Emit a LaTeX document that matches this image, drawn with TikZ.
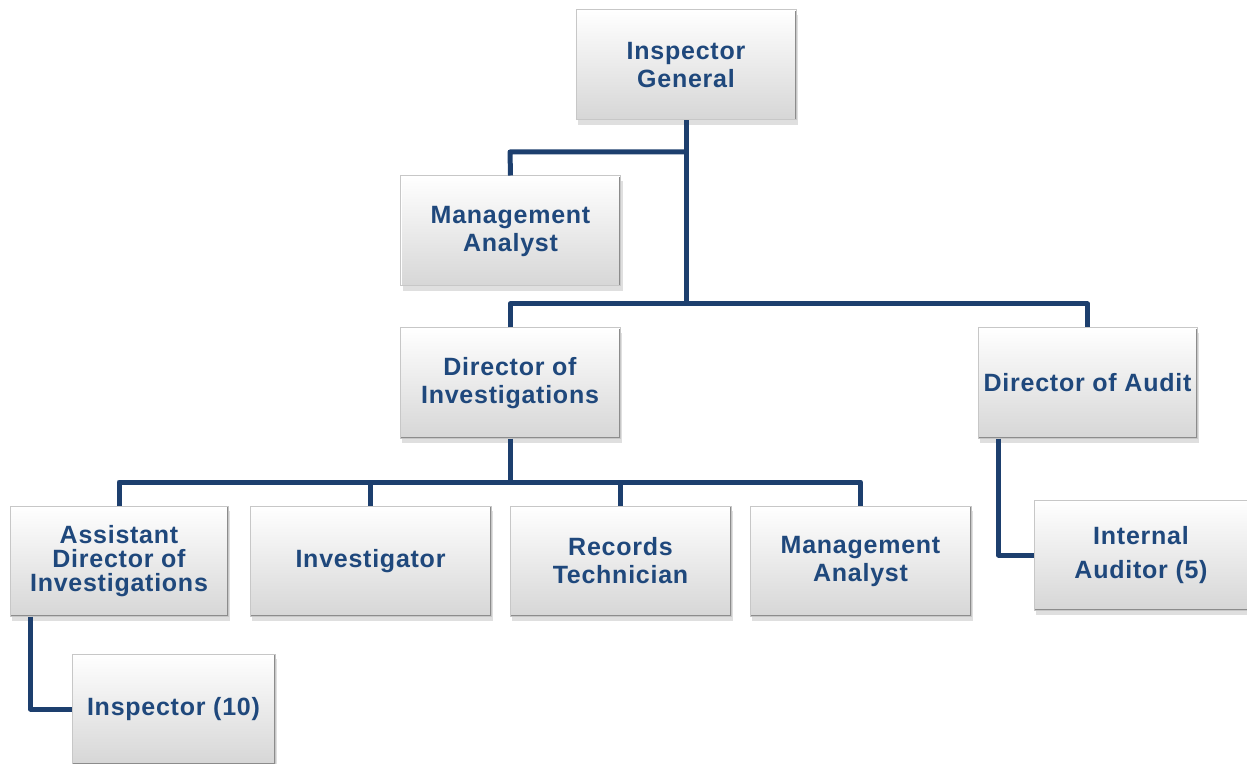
\documentclass[tikz,border=0pt]{standalone}
\usepackage{fontspec}
\newfontfamily\orgfont{Liberation Sans}[LetterSpace=3]
\usetikzlibrary{shadows}

\definecolor{orgblue}{HTML}{1F487C}
\definecolor{orgline}{HTML}{1D3F6E}

\tikzset{
    post/.style={draw=black!22, line width=0.5pt,
        top color=white, middle color=white!98!black, bottom color=black!16,
        minimum height=55pt, minimum width=110pt, align=center, inner sep=2pt,
        text=orgblue, font=\orgfont\bfseries\fontsize{12.5}{14}\selectfont,
        path picture={
            \draw[black!45, line width=1.4pt]
                (path picture bounding box.north east) -- (path picture bounding box.south east)
                -- (path picture bounding box.south west);
            \draw[white, line width=1.4pt]
                (path picture bounding box.south west) -- (path picture bounding box.north west)
                -- (path picture bounding box.north east);
        },
        drop shadow={opacity=0.25, shadow xshift=1pt, shadow yshift=-2.5pt}},
    link/.style={draw=orgline, line width=2.5pt, line join=round}
}

\begin{document}
\begin{tikzpicture}[x=0.5pt, y=-0.5pt]

        \useasboundingbox (0,0) rectangle (1247,764);

        % --- Vertice e staff ---
        \node[post] (ig)   at (686,65)    {Inspector\\General};
        \node[post] (ma1)  at (510.5,231) {Management\\Analyst};

        % --- Direttori ---
        \node[post] (dinv) at (510,383) {Director of\\Investigations};
        \node[post, minimum width=109.5pt] (daud) at (1087.5,383) {Director of Audit};

        % --- Riga delle investigazioni (y=561) ---
        \node[post, minimum width=109pt, font=\orgfont\bfseries\fontsize{12.5}{12}\selectfont]
            (adi) at (119,561) {Assistant\\Director of\\Investigations};
        \node[post, minimum width=120.5pt] (inv) at (370.5,561) {Investigator};
        \node[post, minimum width=110.5pt] (rec) at (620.5,561) {Records\\Technician};
        \node[post, minimum width=110.5pt] (ma2) at (860.5,561) {Management\\Analyst};

        % --- Subordinati ---
        \node[post, minimum width=101.5pt] (insp) at (173.5,709) {Inspector (10)};
        \node[post, minimum width=107pt, font=\orgfont\bfseries\fontsize{12.5}{17}\selectfont]
            (ia) at (1141,555) {Internal\\Auditor (5)};

        % --- Collegamenti ---
        \coordinate (mabend) at (510,152);
        \coordinate (topbus) at (686,304);
        \coordinate (invbus) at (510,482);

        \draw[link] (ig.south) -- (topbus);
        \draw[link] (ma1.north) -- (mabend) -- (ig.south |- mabend);
        \draw[link] (dinv.north) |- (topbus) -| (daud.north);

        \draw[link] (dinv.south) -- (invbus);
        \draw[link] (adi.north) |- (invbus) -| (ma2.north);
        \draw[link] (inv.north) -- (inv.north |- invbus);
        \draw[link] (rec.north) -- (rec.north |- invbus);

        \draw[link] ([xshift=10.5pt]daud.south west) |- (ia.west);
        \draw[link] ([xshift=10.5pt]adi.south west) |- (insp.west);

    \end{tikzpicture}
\end{document}
